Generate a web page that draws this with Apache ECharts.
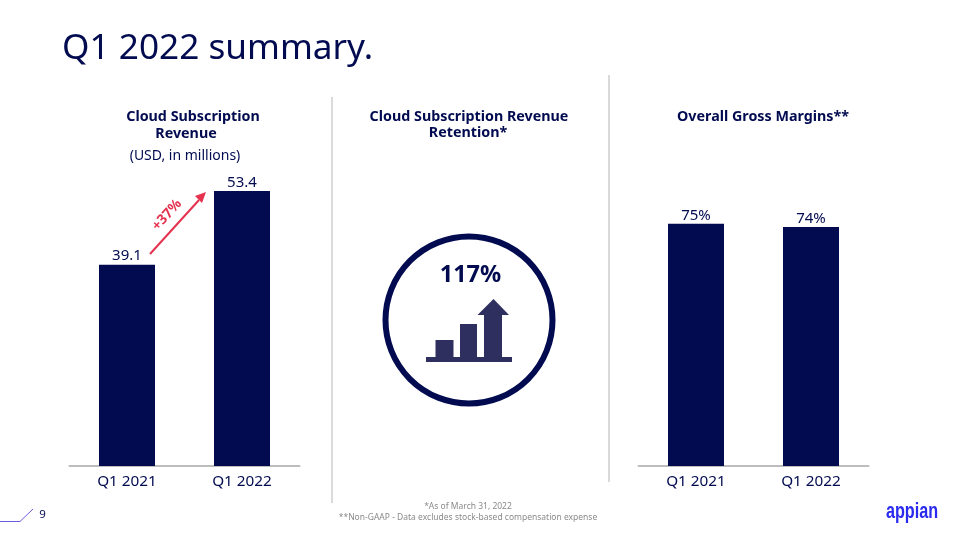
<!DOCTYPE html>
<html><head><meta charset="utf-8">
<style>html,body{margin:0;padding:0;background:#fff}#c{width:960px;height:540px}</style>
<script src="https://cdn.jsdelivr.net/npm/echarts@6/dist/echarts.min.js"></script>
</head><body><div id="c"></div>
<script>
const categories = ['Q1 2021', 'Q1 2022'];
const revenueValues = [39.1, 53.4];
const marginValues = [75, 74];
const NAVY = '#020b50', FONT = '"Noto Sans", sans-serif';
const chart = echarts.init(document.getElementById('c'), null, {renderer:'canvas'});
function xAxis(i){return {type:'category',gridIndex:i,data:categories,
  axisLine:{lineStyle:{color:'#bdbdbd',width:2}},axisTick:{show:false},
  axisLabel:{color:NAVY,fontFamily:FONT,fontSize:15.3,margin:8}};}
function yAxis(i,max){return {type:'value',gridIndex:i,min:0,max:max,show:false};}
function bar(i,data,fmt){return {type:'bar',xAxisIndex:i,yAxisIndex:i,data:data,barWidth:56,
  itemStyle:{color:NAVY},silent:true,animation:false,
  label:{show:true,position:'top',distance:1,color:NAVY,fontFamily:FONT,fontSize:15,formatter:fmt}};}
function t(x,y,text,o){return {type:'text',x:x,y:y,silent:true,style:Object.assign({text:text,fill:NAVY,fontFamily:FONT,fontSize:15.5,align:'center',verticalAlign:'middle'},o||{})};}
function line(x1,y1,x2,y2,color,w){return {type:'line',silent:true,shape:{x1,y1,x2,y2},style:{stroke:color,lineWidth:w}};}
function rect(x,y,w,h){return {type:'rect',silent:true,shape:{x,y,width:w,height:h},style:{fill:'#2e2e5f'}};}
const bold={fontWeight:'bold',fontSize:14.3};
chart.setOption({
  animation:false,
  backgroundColor:'#fff',
  grid:[{left:69.5,width:230,top:157,height:309},{left:638.5,width:230,top:143,height:323}],
  xAxis:[xAxis(0),xAxis(1)],
  yAxis:[yAxis(0,60),yAxis(1,100)],
  series:[bar(0,revenueValues,p=>p.value.toFixed(1)),bar(1,marginValues,p=>p.value+'%')],
  graphic:[
    t(62,49,'Q1 2022 summary.',{align:'left',fontSize:35.2}),
    t(193,117,'Cloud Subscription',bold), t(186,133.5,'Revenue',bold),
    t(185,156,'(USD, in millions)',{fontSize:14}),
    t(469,117,'Cloud Subscription Revenue',bold), t(468,133,'Retention*',bold),
    t(763,117,'Overall Gross Margins**',bold),
    line(332,97,332,503,'#b5b5b5',1), line(609,75,609,482,'#b5b5b5',1),
    line(150,254,199,200,'#e5324f',2),
    {type:'polygon',silent:true,shape:{points:[[206,192],[195,196],[202,203]]},style:{fill:'#e5324f'}},
    {type:'text',x:167,y:215,rotation:48*Math.PI/180,silent:true,originX:0,originY:0,
     style:{text:'+37%',fill:'#e5324f',fontFamily:FONT,fontWeight:'bold',fontSize:14,align:'center',verticalAlign:'middle'}},
    {type:'circle',silent:true,shape:{cx:469,cy:320,r:83.5},style:{fill:'none',stroke:NAVY,lineWidth:6}},
    t(470.5,275,'117%',{fontWeight:'bold',fontSize:23.5}),
    rect(426,357,86,5), rect(435.5,340,18,17), rect(460,324,17,33), rect(484,315,18,42),
    {type:'polygon',silent:true,shape:{points:[[493.5,299],[509,315],[477.5,315]]},style:{fill:'#2e2e5f'}},
    t(468,507,'*As of March 31, 2022',{fontSize:8.5,fill:'#8a8a8a'}),
    t(468,518,'**Non-GAAP - Data excludes stock-based compensation expense',{fontSize:8.5,fill:'#8a8a8a'}),
    {type:'polyline',silent:true,shape:{points:[[0,521.5],[20,521.5],[33,509]]},style:{fill:'none',stroke:'#6a5be0',lineWidth:1}},
    t(42.5,514.5,'9',{fontSize:11.5}),
    {type:'text',x:912,y:512,scaleX:0.72,silent:true,style:{text:'appian',fontFamily:'"Liberation Sans",sans-serif',fontWeight:'bold',fontSize:22.5,fill:'#2b2bf0',align:'center',verticalAlign:'middle'}}
  ]
});
</script></body></html>
